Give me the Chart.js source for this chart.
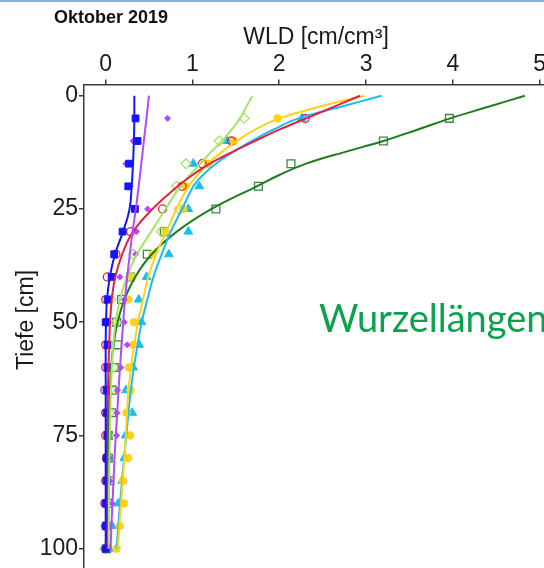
<!DOCTYPE html>
<html>
<head>
<meta charset="utf-8">
<title>WLD Oktober 2019</title>
<script src="https://cdn.jsdelivr.net/npm/chart.js@4.4.0/dist/chart.umd.min.js"></script>
<style>
  html, body { margin: 0; padding: 0; background: #fff; overflow: hidden; }
  body { width: 544px; height: 568px; position: relative; }
  #chart { position: absolute; left: 0; top: 0; }
  #frame { position: absolute; left: 0; top: 0; width: 544px; height: 2px; background: #8badd9; }
  #month { position: absolute; left: 54px; top: 8px; font: bold 18px "Liberation Sans", Arial, sans-serif; line-height: 1; color: #111; }
  #caption { position: absolute; left: 319px; top: 298px; font: 38px Lato, "Open Sans", sans-serif; line-height: 1; color: #0aa14f; white-space: nowrap; }
</style>
</head>
<body>
<canvas id="chart" width="640" height="620"></canvas>
<div id="frame"></div>
<div id="month">Oktober 2019</div>
<div id="caption">Wurzellängendichte</div>
<script>
// sampling depths (cm)
const depths = [5, 10, 15, 20, 25, 30, 35, 40, 45, 50, 55, 60, 65, 70, 75, 80, 85, 90, 95, 100];

// measured root length density per plot (cm/cm³)
const wldBlue   = [0.344, 0.367, 0.27, 0.26, 0.337, 0.194, 0.098, 0.068, 0.022, 0.0, 0.02, 0.02, 0.01, 0.01, 0.02, 0.01, 0.01, 0.0, 0.0, 0.0];
const wldPurple = [0.713, 0.317, 0.233, 0.279, 0.483, 0.356, 0.345, 0.164, 0.214, 0.214, 0.248, 0.175, 0.137, 0.13, 0.126, 0.05, 0.05, 0.075, 0.037, 0.03];
const wldRed    = [2.30, 1.45, 1.112, 0.88, 0.655, 0.287, 0.118, 0.018, 0.0, 0.01, 0.0, 0.0, -0.01, 0.0, 0.0, 0.01, 0.0, -0.01, 0.0, 0.0];
const wldLime   = [1.593, 1.309, 0.925, 0.817, 0.847, 0.644, 0.317, 0.28, 0.06, 0.12, 0.05, 0.087, 0.05, 0.048, 0.03, 0.02, 0.02, 0.01, 0.0, -0.01];
const wldGold   = [1.98, 1.48, 1.18, 0.92, 0.894, 0.69, 0.54, 0.306, 0.26, 0.325, 0.317, 0.267, 0.286, 0.24, 0.28, 0.26, 0.2, 0.21, 0.164, 0.125];
const wldCyan   = [2.26, 1.40, 1.009, 1.078, 0.952, 0.952, 0.728, 0.471, 0.38, 0.413, 0.386, 0.317, 0.233, 0.306, 0.229, 0.214, 0.19, 0.145, 0.075, 0.04];
const wldGreen  = [3.96, 3.20, 2.135, 1.76, 1.27, 0.675, 0.479, 0.287, 0.183, 0.126, 0.137, 0.098, 0.075, 0.068, 0.03, 0.03, 0.048, 0.03, 0.02, 0.01];

// fitted curves
const fitDepths = [0, 2.5, 5, 7.5, 10, 12.5, 15, 17.5, 20, 25, 30, 35, 40, 45, 50, 55, 60, 65, 70, 75, 80, 85, 90, 95, 100];
const fitBlue   = [0.33, 0.33, 0.33, 0.328, 0.325, 0.32, 0.315, 0.308, 0.3, 0.275, 0.2, 0.107, 0.048, 0.015, 0.004, 0.0, 0.0, 0.0, 0.0, 0.0, 0.0, 0.0, 0.0, 0.0, 0.0];
const fitPurple = [0.498, 0.484, 0.47, 0.455, 0.44, 0.425, 0.41, 0.395, 0.38, 0.347, 0.31, 0.278, 0.248, 0.222, 0.202, 0.183, 0.165, 0.148, 0.133, 0.116, 0.102, 0.09, 0.078, 0.066, 0.056];
const fitRed    = [2.93, 2.62, 2.31, 2.0, 1.72, 1.45, 1.2, 1.0, 0.83, 0.54, 0.315, 0.19, 0.11, 0.07, 0.05, 0.04, 0.032, 0.025, 0.02, 0.017, 0.015, 0.013, 0.012, 0.011, 0.01];
const fitLime   = [1.69, 1.62, 1.55, 1.45, 1.34, 1.21, 1.09, 0.97, 0.86, 0.69, 0.525, 0.36, 0.245, 0.165, 0.115, 0.087, 0.07, 0.06, 0.053, 0.048, 0.044, 0.041, 0.038, 0.036, 0.034];
const fitGold   = [2.98, 2.45, 2.0, 1.72, 1.51, 1.33, 1.18, 1.06, 0.955, 0.815, 0.7, 0.58, 0.49, 0.43, 0.372, 0.328, 0.292, 0.263, 0.245, 0.232, 0.215, 0.196, 0.178, 0.158, 0.138];
const fitCyan   = [3.18, 2.7, 2.22, 1.93, 1.68, 1.46, 1.27, 1.12, 1.01, 0.88, 0.75, 0.645, 0.55, 0.48, 0.415, 0.367, 0.325, 0.29, 0.262, 0.238, 0.212, 0.188, 0.166, 0.145, 0.125];
const fitGreen  = [4.83, 4.4, 3.97, 3.59, 3.2, 2.74, 2.31, 2.0, 1.74, 1.22, 0.82, 0.53, 0.34, 0.216, 0.137, 0.09, 0.062, 0.048, 0.038, 0.031, 0.026, 0.021, 0.017, 0.014, 0.012];

const xTicks = [0, 1, 2, 3, 4, 5];
const yTicks = [0, 25, 50, 75, 100];

const toPoints = (ys, xs) => ys.map((d, i) => ({ x: xs[i], y: d }));

function curve(values, color) {
  return {
    data: toPoints(fitDepths, values),
    showLine: true,
    borderColor: color,
    borderWidth: 2,
    pointRadius: 0,
    tension: 0.4,
    fill: false,
  };
}

function marks(values, color, style, radius, open) {
  return {
    data: toPoints(depths, values),
    showLine: false,
    pointStyle: style,
    pointRadius: radius,
    pointBorderWidth: open ? 1.3 : 1,
    pointBorderColor: color,
    pointBackgroundColor: open ? "rgba(0,0,0,0)" : color,
  };
}

const colors = {
  blue: "#1414ff",
  purple: "#b447ff",
  red: "#e3203f",
  lime: "#a9e26b",
  gold: "#ffd21a",
  cyan: "#19bdf2",
  green: "#1e7b1e",
};

// rotated depth label on the left
const depthTitle = {
  id: "depthTitle",
  afterDraw(chart) {
    const c = chart.ctx;
    c.save();
    c.translate(27, 320);
    c.rotate(-Math.PI / 2);
    c.font = '23px "Liberation Sans", Arial, sans-serif';
    c.fillStyle = "#1a1a1a";
    c.textAlign = "center";
    c.textBaseline = "middle";
    c.fillText("Tiefe [cm]", 0, 0);
    c.restore();
  },
};

const tickFont = { family: '"Liberation Sans", Arial, sans-serif', size: 23 };

new Chart(document.getElementById("chart"), {
  type: "scatter",
  data: {
    datasets: [
      curve(fitBlue, colors.blue),
      curve(fitPurple, colors.purple),
      curve(fitRed, colors.red),
      curve(fitLime, colors.lime),
      curve(fitGold, colors.gold),
      curve(fitCyan, colors.cyan),
      curve(fitGreen, colors.green),
      marks(wldBlue, colors.blue, "rect", 4.8, false),
      marks(wldPurple, colors.purple, "rectRot", 3, false),
      marks(wldRed, colors.red, "circle", 4, true),
      marks(wldLime, colors.lime, "rectRot", 5, true),
      marks(wldGold, colors.gold, "circle", 3.8, false),
      marks(wldCyan, colors.cyan, "triangle", 5, false),
      marks(wldGreen, "#3a8a3a", "rect", 5.5, true),
    ],
  },
  options: {
    responsive: false,
    animation: false,
    devicePixelRatio: 1,
    layout: { padding: { left: 0, top: 0, right: 92, bottom: 26 } },
    plugins: { legend: { display: false }, tooltip: { enabled: false } },
    scales: {
      x: {
        type: "linear",
        position: "top",
        min: -0.25,
        max: 5.097,
        afterFit: (s) => { s.height = 84.4; },
        afterBuildTicks: (s) => { s.ticks = xTicks.map((v) => ({ value: v })); },
        border: { display: true, color: "#3a3a3a", width: 1.5 },
        grid: { drawOnChartArea: false, drawTicks: true, tickLength: 5, color: "#3a3a3a", lineWidth: 1.5 },
        ticks: { font: tickFont, color: "#1a1a1a", padding: 1, autoSkip: false, maxRotation: 0 },
        title: {
          display: true,
          text: "WLD [cm/cm³]",
          font: tickFont,
          color: "#1a1a1a",
          padding: { top: 23.5, bottom: 0 },
        },
      },
      y: {
        type: "linear",
        reverse: true,
        min: -2.5,
        max: 110,
        afterFit: (s) => { s.width = 84; },
        afterBuildTicks: (s) => { s.ticks = yTicks.map((v) => ({ value: v })); },
        border: { display: true, color: "#3a3a3a", width: 1.5 },
        grid: { drawOnChartArea: false, drawTicks: true, tickLength: 5, color: "#3a3a3a", lineWidth: 1.5 },
        ticks: { font: tickFont, color: "#1a1a1a", padding: 1, autoSkip: false },
      },
    },
  },
  plugins: [depthTitle],
});
</script>
</body>
</html>
